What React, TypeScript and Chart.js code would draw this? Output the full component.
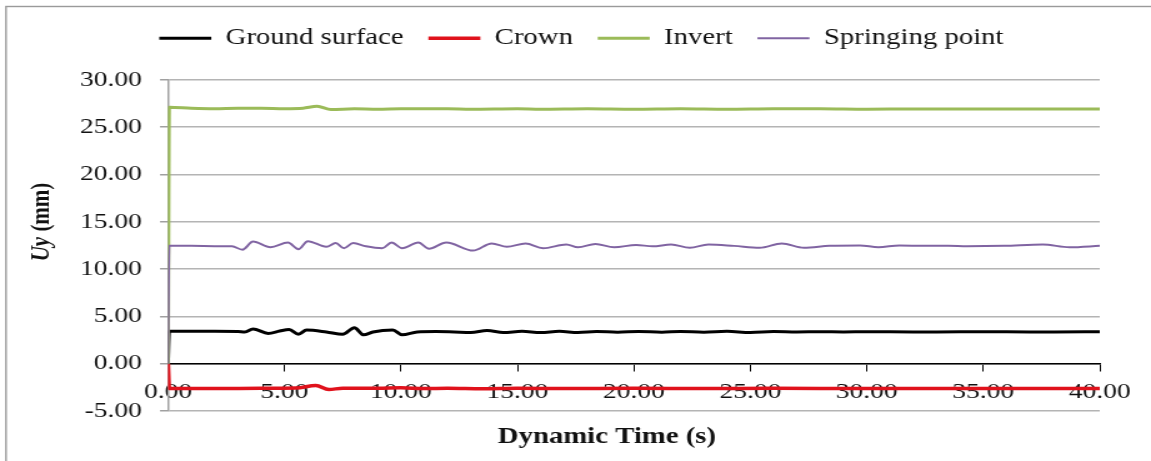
import React, { useEffect, useRef } from "react";
import { Chart, registerables } from "chart.js";

Chart.register(...registerables);

// ---------- data ----------
const seriesNames = ["Ground surface", "Crown", "Invert", "Springing point"];
const seriesColors = ["#000000", "#e0121c", "#9bbb59", "#8064a2"];
const seriesWidths = [3, 3.5, 3, 2];

const groundT = [0, 0.05, 1, 2, 3, 3.3, 3.65, 4.3, 4.8, 5.2, 5.6, 5.95, 6.8, 7.5, 8.0, 8.4, 8.8, 9.65, 10.05, 10.7, 11.5, 12.3, 13.0, 13.7, 14.4, 15.2, 16.0, 16.8, 17.6, 18.4, 19.3, 20.2, 21.2, 22.0, 23.0, 24, 25, 26, 27, 28, 29, 30, 32, 34, 36, 38, 40];
const groundY = [0, 3.42, 3.42, 3.42, 3.4, 3.35, 3.67, 3.2, 3.45, 3.6, 3.12, 3.55, 3.35, 3.1, 3.8, 3.05, 3.35, 3.55, 3.05, 3.35, 3.4, 3.35, 3.3, 3.5, 3.3, 3.42, 3.3, 3.42, 3.3, 3.4, 3.33, 3.4, 3.33, 3.4, 3.33, 3.42, 3.3, 3.4, 3.35, 3.38, 3.35, 3.38, 3.35, 3.37, 3.37, 3.35, 3.37];

const crownT = [0, 0.05, 2, 4, 5.5, 6.35, 6.9, 7.5, 9, 10, 11, 12, 13.5, 15, 17, 20, 23, 26, 30, 35, 40];
const crownY = [0, -2.62, -2.62, -2.6, -2.58, -2.3, -2.72, -2.6, -2.6, -2.55, -2.62, -2.6, -2.65, -2.6, -2.62, -2.6, -2.62, -2.6, -2.62, -2.62, -2.62];

const invertT = [0, 0.05, 1, 2, 3, 4, 5, 5.8, 6.4, 7.0, 8, 9, 10, 12, 13, 15, 16, 18, 20, 22, 24, 26, 28, 30, 32, 35, 38, 40];
const invertY = [0, 27.1, 27.0, 26.95, 27.0, 27.0, 26.95, 27.0, 27.2, 26.85, 26.95, 26.9, 26.95, 26.95, 26.9, 26.95, 26.9, 26.95, 26.9, 26.95, 26.9, 26.95, 26.95, 26.9, 26.92, 26.92, 26.92, 26.92];

const springT = [0, 0.05, 1, 2, 2.75, 3.2, 3.65, 4.4, 5.15, 5.6, 6.0, 6.8, 7.2, 7.55, 7.95, 8.5, 9.2, 9.6, 10.05, 10.75, 11.2, 11.95, 13.1, 13.9, 14.55, 15.35, 16.1, 17.1, 17.6, 18.35, 19.15, 20.1, 20.8, 21.6, 22.4, 23.2, 24.3, 25.4, 26.35, 27.3, 28.4, 29.7, 30.5, 31.4, 32.5, 33.5, 34.3, 35.9, 37.55, 38.7, 40];
const springY = [0, 12.45, 12.45, 12.42, 12.4, 12.05, 12.9, 12.3, 12.8, 12.1, 12.95, 12.35, 12.75, 12.2, 12.75, 12.4, 12.2, 12.8, 12.2, 12.8, 12.15, 12.8, 11.95, 12.7, 12.35, 12.7, 12.2, 12.6, 12.3, 12.65, 12.3, 12.55, 12.4, 12.6, 12.25, 12.6, 12.45, 12.25, 12.7, 12.25, 12.45, 12.5, 12.3, 12.5, 12.45, 12.45, 12.4, 12.45, 12.6, 12.3, 12.45];

const seriesTimes = [groundT, crownT, invertT, springT];
const seriesValues = [groundY, crownY, invertY, springY];

const xMin = 0, xMax = 40, xStep = 5;
const yMin = -5, yMax = 30, yStep = 5;
const xTitle = "Dynamic Time (s)";
const yTitleItalic = "Uy";
const yTitleRest = " (mm)";

// ---------- layout (canvas is drawn narrower and stretched horizontally) ----------
const SX = 1.25;
const W = 1151;
const H = 461;
const CW = Math.round(W / SX);
const FONT = "'Liberation Serif', 'Times New Roman', serif";

const framePlugin = {
  id: "frame",
  beforeDraw(chart: any) {
    const ctx = chart.ctx;
    ctx.save();
    ctx.strokeStyle = "#9a9a9a";
    ctx.lineWidth = 1.4;
    ctx.strokeRect(4.8, 6.5, 4000, 4000);
    ctx.restore();
  },
};

// extra space below the legend (Excel leaves a gap between legend and plot)
const legendGapPlugin = {
  id: "legendGap",
  beforeLayout(chart: any) {
    const lg = chart.legend;
    if (lg && !lg.__gapPatched) {
      const orig = lg.fit.bind(lg);
      lg.fit = function () {
        orig();
        this.height += 20;
      };
      lg.__gapPatched = true;
    }
  },
};

const titlesPlugin = {
  id: "axisTitles",
  afterDraw(chart: any) {
    const ctx = chart.ctx;
    ctx.save();
    ctx.fillStyle = "#111";
    // x title
    ctx.font = `bold 23px ${FONT}`;
    ctx.textAlign = "center";
    ctx.textBaseline = "middle";
    ctx.fillText(xTitle, 485.6, 437);
    // y title (rotated)
    ctx.translate(34, 222);
    ctx.rotate(-Math.PI / 2);
    const fI = `italic bold 21px ${FONT}`;
    const fB = `bold 21px ${FONT}`;
    ctx.font = fI;
    const w1 = ctx.measureText(yTitleItalic).width;
    ctx.font = fB;
    const w2 = ctx.measureText(yTitleRest).width;
    const start = -(w1 + w2) / 2;
    ctx.textAlign = "left";
    ctx.font = fI;
    ctx.fillText(yTitleItalic, start, 0);
    ctx.font = fB;
    ctx.fillText(yTitleRest, start + w1, 0);
    ctx.restore();
  },
};

export default function App() {
  const ref = useRef<HTMLCanvasElement | null>(null);

  useEffect(() => {
    document.body.style.margin = "0";
    const canvas = ref.current;
    if (!canvas) return;
    Chart.defaults.font.family = FONT;

    const datasets = seriesNames.map((name, i) => ({
      label: name,
      data: seriesTimes[i].map((t, j) => ({ x: t, y: seriesValues[i][j] })),
      borderColor: seriesColors[i],
      backgroundColor: seriesColors[i],
      borderWidth: seriesWidths[i],
      pointRadius: 0,
      cubicInterpolationMode: "monotone" as const,
      order: seriesNames.length - 1 - i,
    }));

    const chart = new Chart(canvas, {
      type: "line",
      data: { datasets },
      plugins: [framePlugin, legendGapPlugin, titlesPlugin],
      options: {
        animation: false,
        responsive: false,
        devicePixelRatio: 1,
        layout: { padding: { left: 50.4, right: 41, top: 7, bottom: 50 } },
        plugins: {
          tooltip: { enabled: false },
          legend: {
            position: "top",
            reverse: true,
            labels: {
              usePointStyle: true,
              pointStyle: "line",
              pointStyleWidth: 41.6,
              padding: 19.8,
              color: "#111",
              font: { family: FONT, size: 23 },
            },
          },
        },
        scales: {
          x: {
            type: "linear",
            position: { y: 0 } as any,
            min: xMin,
            max: xMax,
            grid: {
              display: true,
              drawOnChartArea: false,
              drawTicks: true,
              tickLength: 7,
              tickColor: "#000",
              lineWidth: 1,
            },
            border: { display: true, color: "#000", width: 1.5 },
            ticks: {
              stepSize: xStep,
              padding: 8,
              color: "#111",
              maxRotation: 0,
              autoSkip: false,
              font: { family: FONT, size: 22 },
              callback: (v: any) => Number(v).toFixed(2),
            },
          },
          y: {
            type: "linear",
            min: yMin,
            max: yMax,
            afterFit: (s: any) => {
              s.width = 84;
            },
            grid: {
              color: "#b4b4b4",
              lineWidth: 1.5,
              drawTicks: true,
              tickLength: 6.4,
              tickColor: "#a0a0a0",
            },
            border: { display: true, color: "#a0a0a0", width: 1.5 },
            ticks: {
              stepSize: yStep,
              padding: 14.4,
              color: "#111",
              font: { family: FONT, size: 22 },
              callback: (v: any) => Number(v).toFixed(2),
            },
          },
        },
      },
    });
    return () => chart.destroy();
  }, []);

  return (
    <div style={{ width: W, height: H, background: "#fff" }}>
      <canvas
        ref={ref}
        width={CW}
        height={H}
        style={{ display: "block", width: `${W}px`, height: `${H}px` }}
      />
    </div>
  );
}
